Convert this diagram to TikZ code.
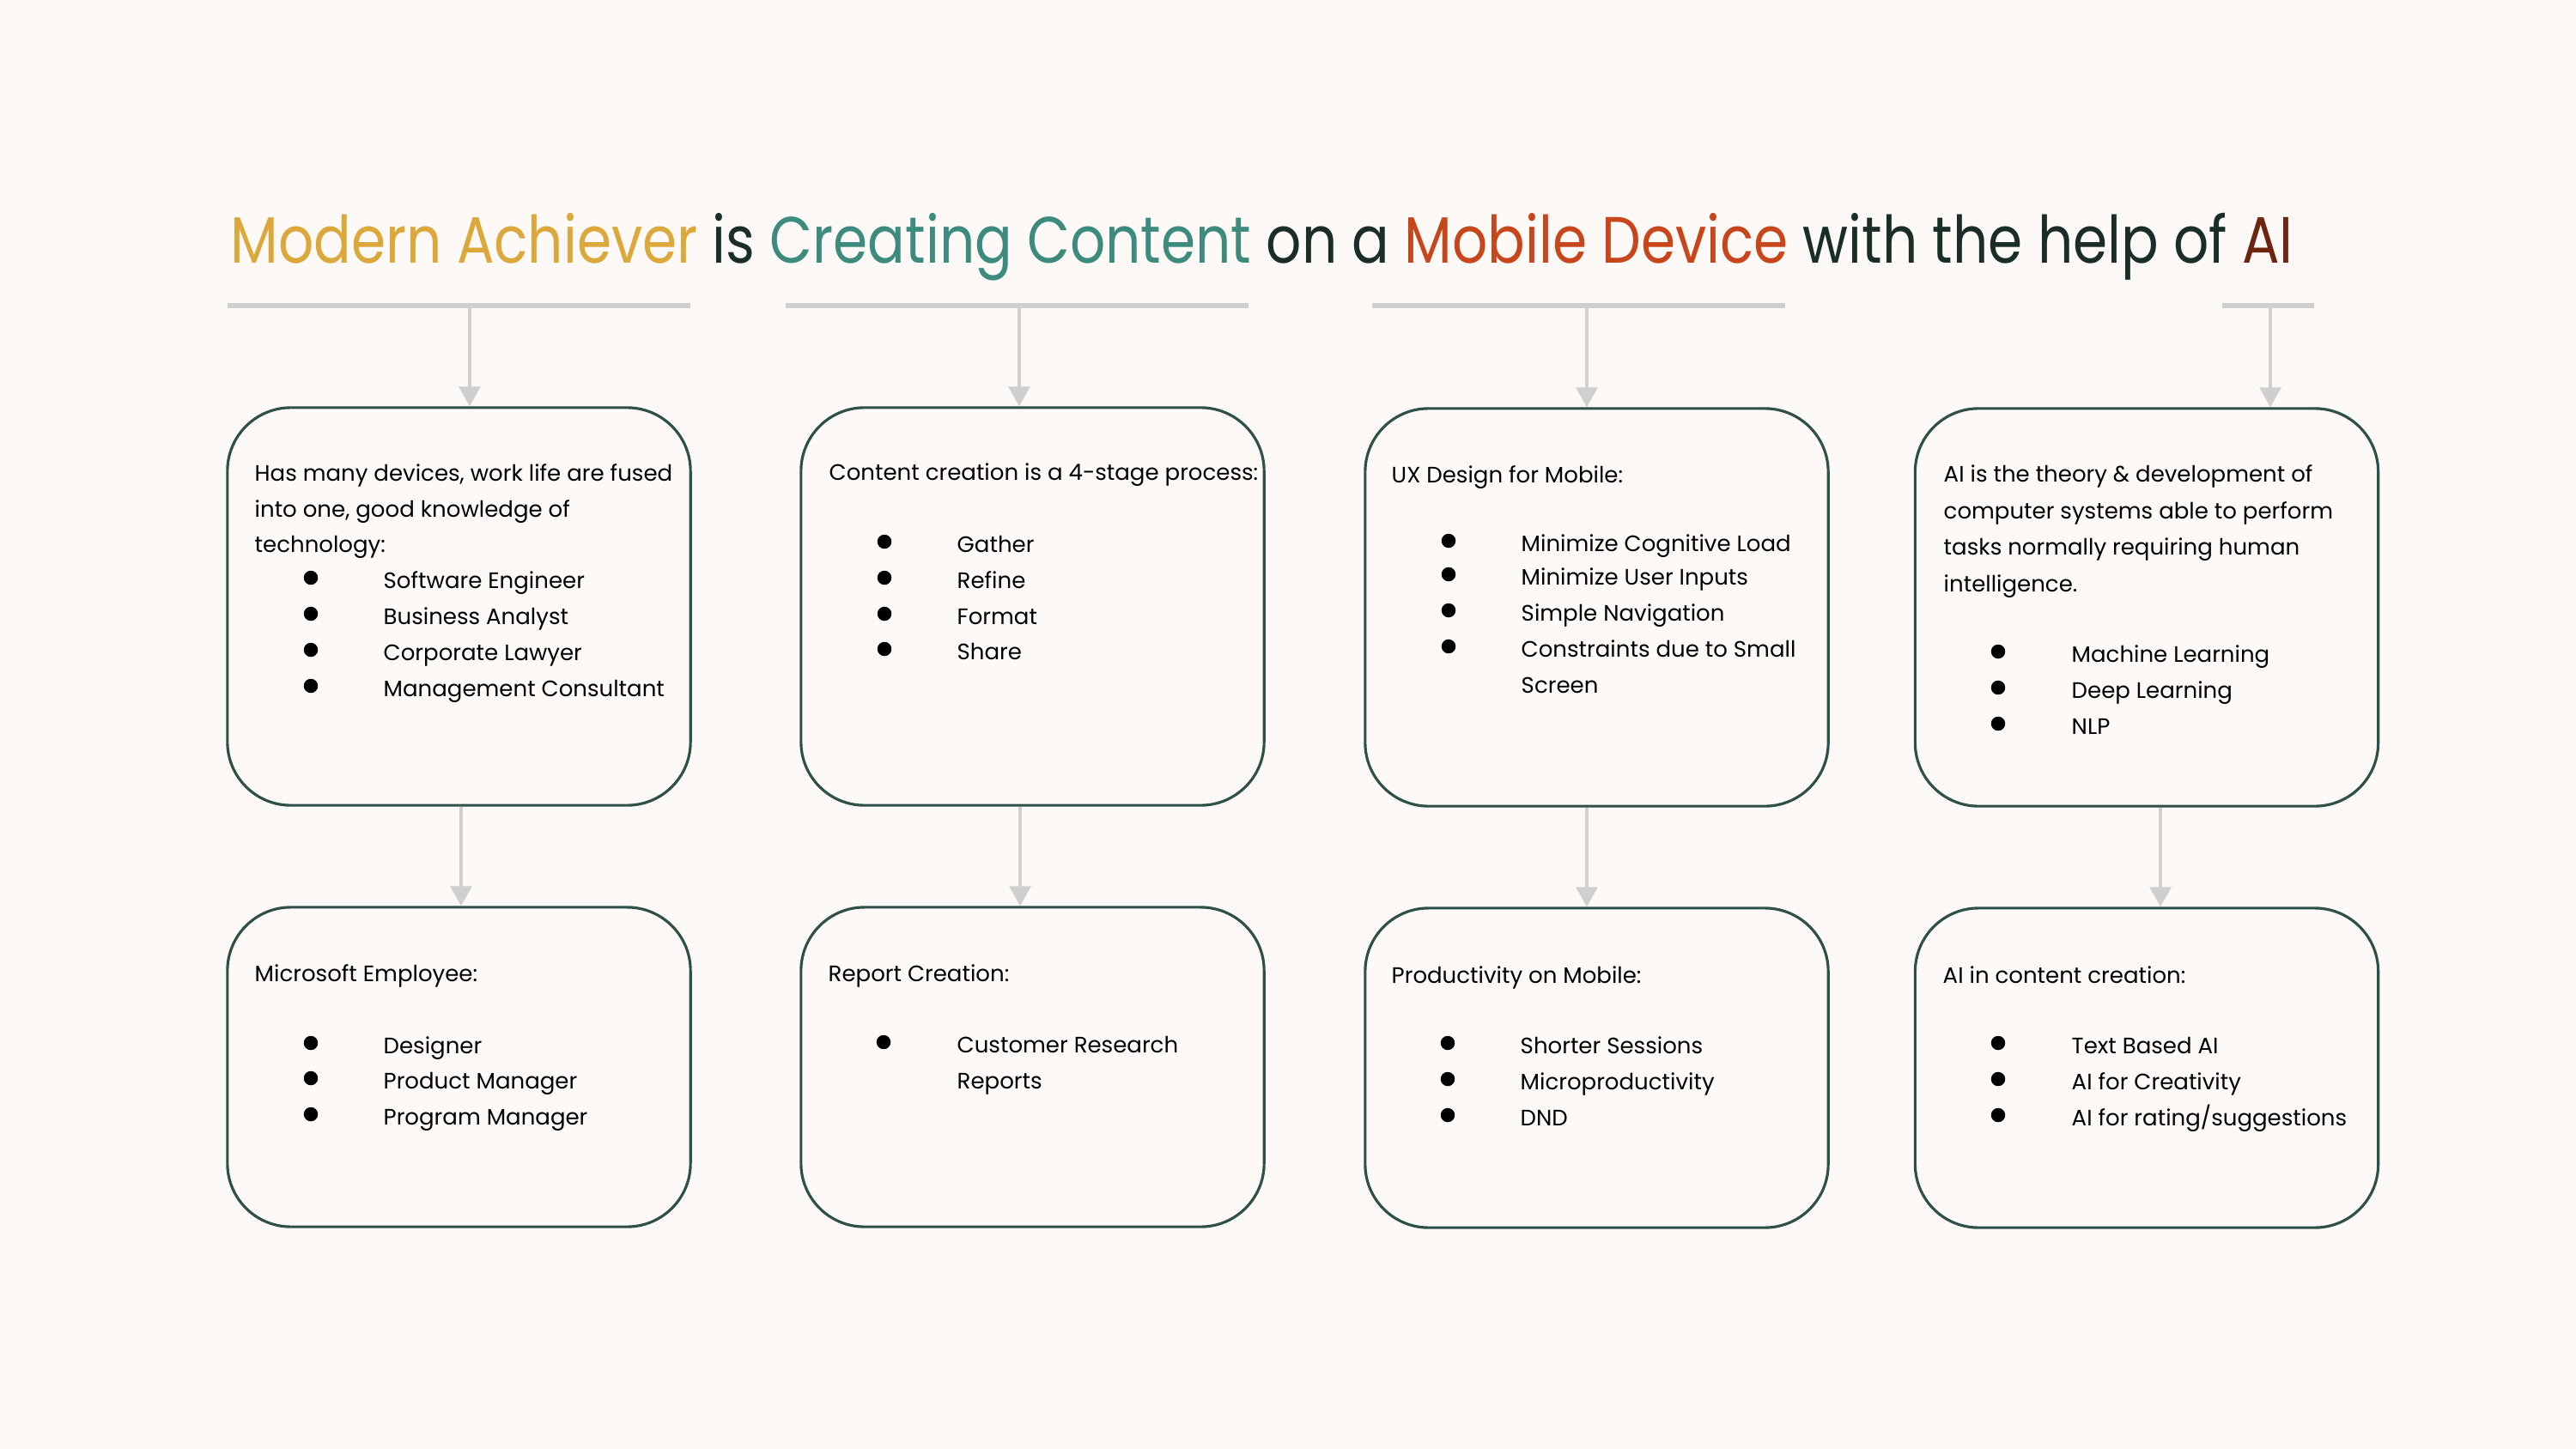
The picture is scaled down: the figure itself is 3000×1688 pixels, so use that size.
\documentclass[tikz,border=0pt]{standalone}
\usepackage{fontspec}
\usepackage{graphicx}
\setmainfont{Poppins}
\usetikzlibrary{arrows.meta}
\definecolor{bgc}{HTML}{FDF9F7}
\definecolor{goldc}{HTML}{DCA83C}
\definecolor{tealc}{HTML}{3D8B7D}
\definecolor{orangec}{HTML}{C8461B}
\definecolor{brownc}{HTML}{6B2511}
\definecolor{darkc}{HTML}{1B2D28}
\definecolor{borderc}{HTML}{2E5048}
\definecolor{greyc}{HTML}{CFCFCF}
\newcommand{\bodyfont}{\fontsize{7.4pt}{9pt}\selectfont}
\tikzset{
  box/.style={draw=borderc, line width=0.9pt, rounded corners=21pt, minimum width=5.39cm, inner sep=0pt, fill=bgc},
  topbox/.style={box, minimum height=4.63cm},
  botbox/.style={box, minimum height=3.72cm},
  txt/.style={anchor=base west, inner sep=0pt, font=\bodyfont, text=black},
  bul/.style={circle, fill=black, inner sep=0pt, minimum size=0.165cm},
  bar/.style={draw=greyc, line width=1.5pt},
  arr/.style={draw=greyc, line width=1.1pt, -{Triangle[width=7pt,length=6.5pt]}}
}
\begin{document}
\begin{tikzpicture}[x=0.01cm, y=-0.01cm]
\fill[bgc] (0,0) rectangle (3000,1688);
\useasboundingbox (0,0) rectangle (3000,1688);

% title
\node[anchor=base west, inner sep=0pt] (title) at (268,306)
  {\resizebox{683pt}{\height}{\fontsize{21.7pt}{26pt}\selectfont
  \textcolor{goldc}{Modern Achiever} \textcolor{darkc}{is} \textcolor{tealc}{Creating Content} \textcolor{darkc}{on a} \textcolor{orangec}{Mobile Device} \textcolor{darkc}{with the help of} \textcolor{brownc}{AI}}};

% boxes
\node[topbox] (b1) at (534.5,706.5) {};
\node[topbox] (b2) at (1202.5,706.5) {};
\node[topbox] (b3) at (1859.5,707.5) {};
\node[topbox] (b4) at (2500,707.5) {};
\node[botbox] (c1) at (534.5,1243) {};
\node[botbox] (c2) at (1202.5,1243) {};
\node[botbox] (c3) at (1859.5,1244) {};
\node[botbox] (c4) at (2500,1244) {};

% top bars
\coordinate (t1l) at (265,356); \coordinate (t1r) at (804,356);
\coordinate (t2l) at (915,356); \coordinate (t2r) at (1454,356);
\coordinate (t3l) at (1598,356); \coordinate (t3r) at (2079,356);
\coordinate (t4l) at (2588,356); \coordinate (t4r) at (2695,356);
\draw[bar] (t1l) -- (t1r);
\draw[bar] (t2l) -- (t2r);
\draw[bar] (t3l) -- (t3r);
\draw[bar] (t4l) -- (t4r);
\coordinate (a1) at (547,356);
\coordinate (a2) at (1187,356);
\coordinate (a3) at (1848,356);
\coordinate (a4) at (2644,356);
\draw[arr] (a1) -- (a1 |- b1.north);
\draw[arr] (a2) -- (a2 |- b2.north);
\draw[arr] (a3) -- (a3 |- b3.north);
\draw[arr] (a4) -- (a4 |- b4.north);

% middle arrows
\coordinate (m1) at (537,0);
\coordinate (m2) at (1188,0);
\coordinate (m3) at (1848,0);
\coordinate (m4) at (2516,0);
\draw[arr] (b1.south -| m1) -- (c1.north -| m1);
\draw[arr] (b2.south -| m2) -- (c2.north -| m2);
\draw[arr] (b3.south -| m3) -- (c3.north -| m3);
\draw[arr] (b4.south -| m4) -- (c4.north -| m4);

% box 1 top
\node[txt] (b1h1) at (296,560) {Has many devices, work life are fused};
\node[txt] (b1h2) at (296,602) {into one, good knowledge of};
\node[txt] (b1h3) at (296,643) {technology:};
\node[bul] (b1p1) at (362,673) {}; \node[txt] (b1i1) at (446,685) {Software Engineer};
\node[bul] (b1p2) at (362,715) {}; \node[txt] (b1i2) at (446,727) {Business Analyst};
\node[bul] (b1p3) at (362,757) {}; \node[txt] (b1i3) at (446,769) {Corporate Lawyer};
\node[bul] (b1p4) at (362,799) {}; \node[txt] (b1i4) at (446,811) {Management Consultant};

% box 2 top
\node[txt] (b2h1) at (965,559) {Content creation is a 4-stage process:};
\node[bul] (b2p1) at (1030,631) {}; \node[txt] (b2i1) at (1114,643) {Gather};
\node[bul] (b2p2) at (1030,673) {}; \node[txt] (b2i2) at (1114,685) {Refine};
\node[bul] (b2p3) at (1030,715) {}; \node[txt] (b2i3) at (1114,727) {Format};
\node[bul] (b2p4) at (1030,756) {}; \node[txt] (b2i4) at (1114,768) {Share};

% box 3 top
\node[txt] (b3h1) at (1620,562) {UX Design for Mobile:};
\node[bul] (b3p1) at (1687,630) {}; \node[txt] (b3i1) at (1771,642) {Minimize Cognitive Load};
\node[bul] (b3p2) at (1687,669) {}; \node[txt] (b3i2) at (1771,681) {Minimize User Inputs};
\node[bul] (b3p3) at (1687,711) {}; \node[txt] (b3i3) at (1771,723) {Simple Navigation};
\node[bul] (b3p4) at (1687,753) {}; \node[txt] (b3i4) at (1771,765) {Constraints due to Small};
\node[txt] (b3i5) at (1771,807) {Screen};

% box 4 top
\node[txt] (b4h1) at (2263,561) {AI is the theory \& development of};
\node[txt] (b4h2) at (2263,604) {computer systems able to perform};
\node[txt] (b4h3) at (2263,646) {tasks normally requiring human};
\node[txt] (b4h4) at (2263,689) {intelligence.};
\node[bul] (b4p1) at (2327,759) {}; \node[txt] (b4i1) at (2412,771) {Machine Learning};
\node[bul] (b4p2) at (2327,801) {}; \node[txt] (b4i2) at (2412,813) {Deep Learning};
\node[bul] (b4p3) at (2327,843) {}; \node[txt] (b4i3) at (2412,855) {NLP};

% box 1 bottom
\node[txt] (c1h1) at (296,1143) {Microsoft Employee:};
\node[bul] (c1p1) at (362,1215) {}; \node[txt] (c1i1) at (446,1227) {Designer};
\node[bul] (c1p2) at (362,1256) {}; \node[txt] (c1i2) at (446,1268) {Product Manager};
\node[bul] (c1p3) at (362,1298) {}; \node[txt] (c1i3) at (446,1310) {Program Manager};

% box 2 bottom
\node[txt] (c2h1) at (964,1143) {Report Creation:};
\node[bul] (c2p1) at (1029,1214) {}; \node[txt] (c2i1) at (1114,1226) {Customer Research};
\node[txt] (c2i2) at (1114,1268) {Reports};

% box 3 bottom
\node[txt] (c3h1) at (1620,1145) {Productivity on Mobile:};
\node[bul] (c3p1) at (1686,1215) {}; \node[txt] (c3i1) at (1770,1227) {Shorter Sessions};
\node[bul] (c3p2) at (1686,1257) {}; \node[txt] (c3i2) at (1770,1269) {Microproductivity};
\node[bul] (c3p3) at (1686,1299) {}; \node[txt] (c3i3) at (1770,1311) {DND};

% box 4 bottom
\node[txt] (c4h1) at (2262,1145) {AI in content creation:};
\node[bul] (c4p1) at (2327,1215) {}; \node[txt] (c4i1) at (2412,1227) {Text Based AI};
\node[bul] (c4p2) at (2327,1257) {}; \node[txt] (c4i2) at (2412,1269) {AI for Creativity};
\node[bul] (c4p3) at (2327,1299) {}; \node[txt] (c4i3) at (2412,1311) {AI for rating/suggestions};
\end{tikzpicture}
\end{document}
